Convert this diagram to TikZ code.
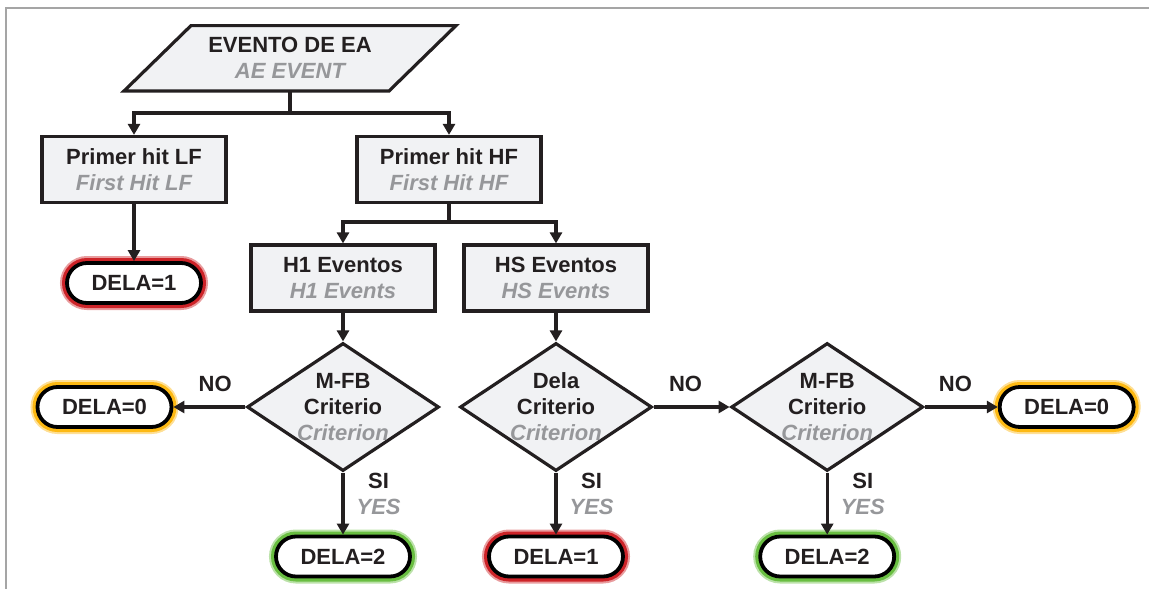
\documentclass[tikz,border=0pt]{standalone}
\usepackage{fontspec}
\setmainfont{Liberation Sans}
\usetikzlibrary{positioning}
\usetikzlibrary{shapes}
\usetikzlibrary{arrows.meta}
\usepackage{xcolor}
\definecolor{inkgray}{RGB}{35,31,32}
\definecolor{boxgray}{RGB}{241,242,244}
\definecolor{engray}{RGB}{150,151,154}
\definecolor{framegray}{RGB}{165,165,165}
\definecolor{glowred}{RGB}{205,35,40}
\definecolor{glowyellow}{RGB}{253,185,19}
\definecolor{glowgreen}{RGB}{105,190,65}
\newcommand{\en}[1]{\textcolor{engray}{\itshape #1}}
\tikzstyle{Txt} = [font=\bfseries\fontsize{22}{26}\selectfont,text=inkgray,align=center,inner sep=0pt]
\tikzstyle{Box} = [Txt,rectangle,draw=inkgray,fill=boxgray,line width=3.2pt,minimum width=184pt,minimum height=66pt]
\tikzstyle{Dec} = [Txt,diamond,draw=inkgray,fill=boxgray,line width=3.2pt,minimum width=192pt,minimum height=128pt,inner sep=-10pt]
\tikzstyle{Out} = [Txt,rectangle,rounded corners=20pt,draw=black,fill=white,line width=3.8pt,minimum width=134pt,minimum height=40pt]
\tikzstyle{Lbl} = [Txt]
\tikzset{halo/.style={preaction={draw=#1,line width=14pt,opacity=0.45},preaction={draw=#1,line width=10pt,opacity=1}}}
\tikzset{Line/.style={draw=inkgray,line width=3.2pt}}
\tikzset{Arr/.style={Line,-{Triangle[length=11pt,width=12pt]}}}

\begin{document}
\begin{tikzpicture}[x=1pt,y=-1pt]
  \useasboundingbox (0,0) rectangle (1149,589);
  \draw [framegray,line width=1.5pt] (6,589) -- (6,8) -- (1149,8);

  % entrada
  \path [draw=inkgray,fill=boxgray,line width=3.2pt] (124,91) -- (191,25.6) -- (456,25.6) -- (389,91) -- cycle;
  \node [Txt,minimum width=263pt,minimum height=65.4pt] (ev) at (290,58.3) {EVENTO DE EA\\\en{AE EVENT}};

  \node [Box] (lf) at (134,169.5) {Primer hit LF\\\en{First Hit LF}};
  \node [Box] (hf) at (449,169.5) {Primer hit HF\\\en{First Hit HF}};
  \node [Box] (h1) at (343,278) {H1 Eventos\\\en{H1 Events}};
  \node [Box] (hs) at (556,278) {HS Eventos\\\en{HS Events}};

  \node [Dec] (d1) at (343,407) {M-FB\\Criterio\\\en{Criterion}};
  \node [Dec] (d2) at (556,407) {Dela\\Criterio\\\en{Criterion}};
  \node [Dec,right=76pt of d2] (d3) {M-FB\\Criterio\\\en{Criterion}};

  \node [Out,halo=glowred,below=57pt of lf] (r1) {DELA=1};
  \node [Out,halo=glowyellow,left=72pt of d1] (o1) {DELA=0};
  \node [Out,halo=glowyellow,right=73pt of d3] (o2) {DELA=0};
  \node [Out,halo=glowgreen,below=62pt of d1] (g1) {DELA=2};
  \node [Out,halo=glowred,below=62pt of d2] (r2) {DELA=1};
  \node [Out,halo=glowgreen,below=62pt of d3] (g2) {DELA=2};

  \coordinate (j1) at (290,113);
  \coordinate (j2) at (449,222);
  \draw [Line] (ev) -- (j1);
  \draw [Arr] (j1) -| (lf);
  \draw [Arr] (j1) -| (hf);
  \draw [Line] (hf) -- (j2);
  \draw [Arr] (j2) -| (h1);
  \draw [Arr] (j2) -| (hs);
  \draw [Arr] (lf) -- (r1);
  \draw [Arr] (h1) -- (d1);
  \draw [Arr] (hs) -- (d2);

  \draw [Arr] (d1) -- (o1) node [Lbl,pos=0.42,above=14pt] {NO};
  \draw [Arr] (d2) -- (d3) node [Lbl,pos=0.42,above=14pt] {NO};
  \draw [Arr] (d3) -- (o2) node [Lbl,pos=0.42,above=14pt] {NO};
  \draw [Arr] (d1) -- (g1) node [Lbl,pos=0.35,right=12pt] {SI\\\en{YES}};
  \draw [Arr] (d2) -- (r2) node [Lbl,pos=0.35,right=12pt] {SI\\\en{YES}};
  \draw [Arr] (d3) -- (g2) node [Lbl,pos=0.35,right=12pt] {SI\\\en{YES}};
\end{tikzpicture}
\end{document}
